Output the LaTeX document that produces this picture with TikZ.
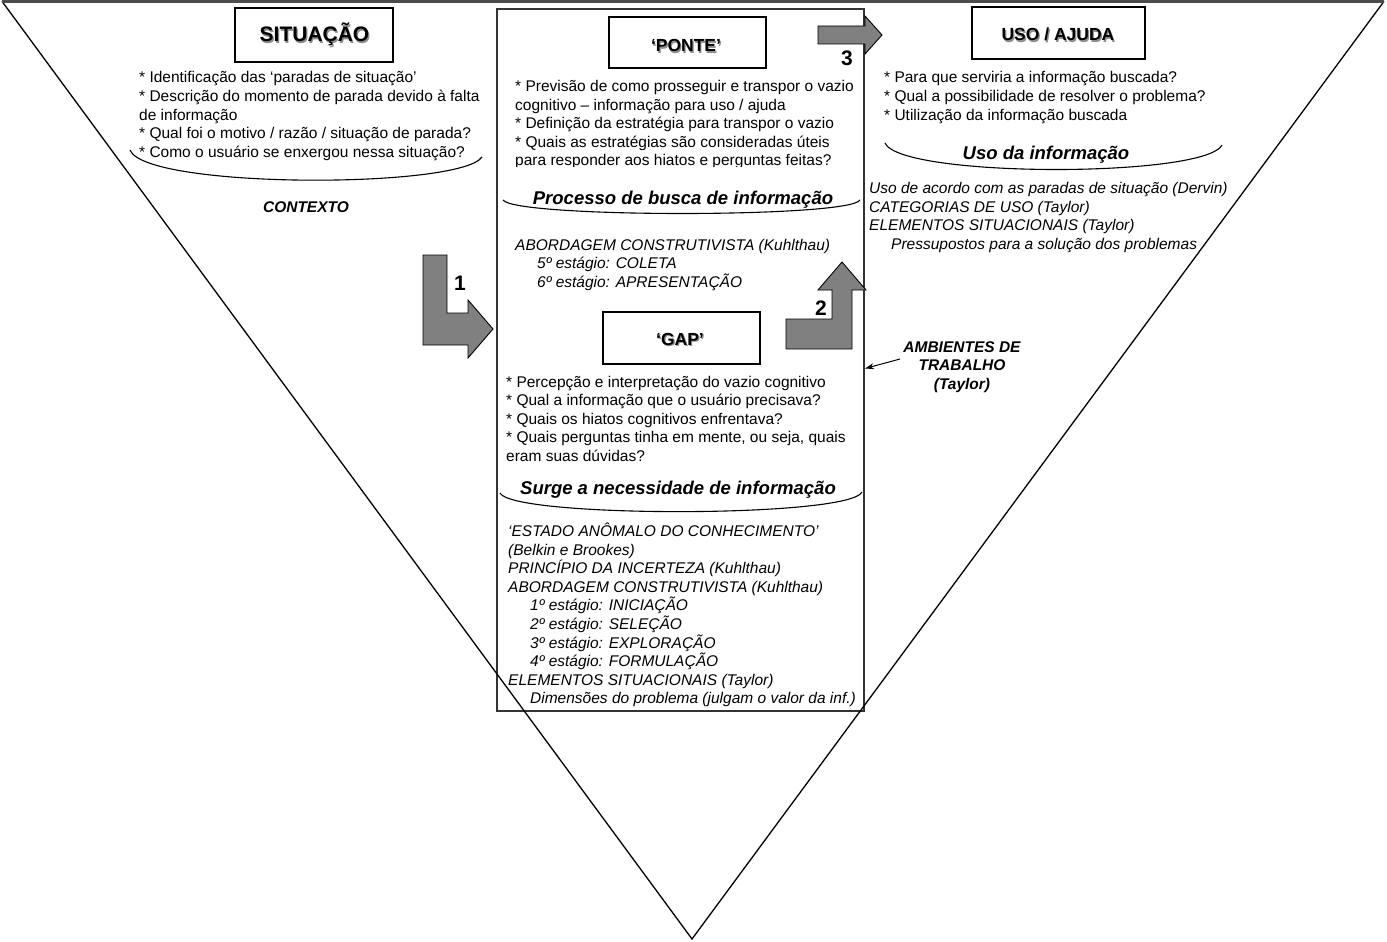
\documentclass[tikz,border=0pt]{standalone}
\usepackage{fontspec}
\setmainfont{Liberation Sans}
\usetikzlibrary{arrows.meta}
\newcommand\fsTxt{\fontsize{15.5}{18.4}\selectfont}
\newcommand\fsHead{\fontsize{18.5}{22}\selectfont\bfseries\itshape}
\newcommand\fsBI{\fontsize{15.5}{18.5}\selectfont\bfseries\itshape}
\newcommand\fsTitle{\fontsize{17.5}{20}\selectfont\bfseries}
\newcommand\fsBig{\fontsize{21}{24}\selectfont\bfseries}
\newcommand\shtext[1]{\makebox[0pt][l]{\hspace{1.2pt}\raisebox{-1.2pt}{\textcolor{black!45}{#1}}}#1}
\begin{document}
\begin{tikzpicture}[x=1pt,y=-1pt,
  txt/.style={anchor=base west,inner sep=0pt,font=\fsTxt},
  itl/.style={anchor=base west,inner sep=0pt,font=\fsTxt\itshape},
  head/.style={anchor=base,inner sep=0pt,font=\fsHead},
  bi/.style={anchor=base,inner sep=0pt,font=\fsBI},
  ttl/.style={anchor=base,inner sep=0pt,font=\fsTitle},
  num/.style={anchor=base,inner sep=0pt,font=\fsBig},
  tbox/.style={draw,line width=1.1pt,inner sep=0pt},
  barrow/.style={draw=black,line width=0.9pt,fill=black!50,line join=miter},
  arc/.style={line width=1.1pt}
]
\useasboundingbox (0,0) rectangle (1387,942);

% central frame
\node[draw=black!80,line width=1.6pt,inner sep=0pt,minimum width=367pt,minimum height=702pt] (mainbox) at (680.5,360) {};

% triangle
\coordinate (tl) at (2,1.3);
\coordinate (tr) at (1384,1.3);
\coordinate (apex) at (692,939);
\draw[line width=1.3pt] (tl) -- (apex) -- (tr);
\draw[line width=2.6pt,black!70] (tl) -- (tr);

% title boxes
\node[tbox,minimum width=158pt,minimum height=54pt] (sitbox) at (314,35) {};
\node[num] (sit) at (314.5,42) {\shtext{SITUAÇÃO}};
\node[tbox,minimum width=157pt,minimum height=51pt] (pontebox) at (687.5,42.5) {};
\node[ttl] (ponte) at (686,52) {\shtext{‘PONTE’}};
\node[tbox,minimum width=173pt,minimum height=52pt] (usobox) at (1058.5,33) {};
\node[ttl] (uso) at (1058,41) {\shtext{USO / AJUDA}};
\node[tbox,minimum width=157pt,minimum height=52pt] (gapbox) at (681.5,338) {};
\node[ttl] (gap) at (680,345) {\shtext{‘GAP’}};

% SITUACAO text
\node[txt] (s1) at (139,83) {* Identificação das ‘paradas de situação’};
\node[txt] (s2) at (139,101.6) {* Descrição do momento de parada devido à falta};
\node[txt] (s3) at (139,120.2) {de informação};
\node[txt] (s4) at (139,138.8) {* Qual foi o motivo / razão / situação de parada?};
\node[txt] (s5) at (139,157.4) {* Como o usuário se enxergou nessa situação?};
\draw[arc] (130,150) .. controls (145,189) and (460,189) .. (482,157);
\node[bi] (ctx) at (306,212) {CONTEXTO};

% PONTE text
\begin{scope}
\clip (500,60) rectangle (862,166.4);
\node[txt] (p1) at (515,91.5) {* Previsão de como prosseguir e transpor o vazio};
\node[txt] (p2) at (515,110.1) {cognitivo – informação para uso / ajuda};
\node[txt] (p3) at (515,128.7) {* Definição da estratégia para transpor o vazio};
\node[txt] (p4) at (515,147.3) {* Quais as estratégias são consideradas úteis};
\node[txt] (p5) at (515,165.9) {para responder aos hiatos e perguntas feitas?};
\end{scope}
\node[head] (proc) at (683,204) {Processo de busca de informação};
\draw[arc] (503,200) .. controls (515,218) and (850,218) .. (860,200);
\node[itl] (a1) at (515,250) {ABORDAGEM CONSTRUTIVISTA (Kuhlthau)};
\node[itl] (a2) at (537,268.6) {5º estágio: COLETA};
\node[itl] (a3) at (537,287.2) {6º estágio: APRESENTAÇÃO};

% USO text
\node[txt] (u1) at (884,83) {* Para que serviria a informação buscada?};
\node[txt] (u2) at (884,101.5) {* Qual a possibilidade de resolver o problema?};
\node[txt] (u3) at (884,120) {* Utilização da informação buscada};
\node[head] (usoinf) at (1046,159) {Uso da informação};
\draw[arc] (885,143) .. controls (900,178) and (1205,178) .. (1222,145);
\node[itl] (r1) at (869,193.5) {Uso de acordo com as paradas de situação (Dervin)};
\node[itl] (r2) at (869,212) {CATEGORIAS DE USO (Taylor)};
\node[itl] (r3) at (869,230.5) {ELEMENTOS SITUACIONAIS (Taylor)};
\node[itl] (r4) at (891,249) {Pressupostos para a solução dos problemas};

% GAP text
\node[txt] (g1) at (506,387) {* Percepção e interpretação do vazio cognitivo};
\node[txt] (g2) at (506,405.5) {* Qual a informação que o usuário precisava?};
\node[txt] (g3) at (506,424) {* Quais os hiatos cognitivos enfrentava?};
\node[txt] (g4) at (506,442.5) {* Quais perguntas tinha em mente, ou seja, quais};
\node[txt] (g5) at (506,461) {eram suas dúvidas?};
\node[head] (surge) at (678,494) {Surge a necessidade de informação};
\draw[arc] (500,493) .. controls (512,518) and (850,518) .. (862,492);
\node[itl] (e1) at (508,536.5) {‘ESTADO ANÔMALO DO CONHECIMENTO’};
\node[itl] (e2) at (508,555.1) {(Belkin e Brookes)};
\node[itl] (e3) at (508,573.7) {PRINCÍPIO DA INCERTEZA (Kuhlthau)};
\node[itl] (e4) at (508,592.3) {ABORDAGEM CONSTRUTIVISTA (Kuhlthau)};
\node[itl] (e5) at (530,610.9) {1º estágio: INICIAÇÃO};
\node[itl] (e6) at (530,629.5) {2º estágio: SELEÇÃO};
\node[itl] (e7) at (530,648.1) {3º estágio: EXPLORAÇÃO};
\node[itl] (e8) at (530,666.7) {4º estágio: FORMULAÇÃO};
\node[itl] (e9) at (508,685.3) {ELEMENTOS SITUACIONAIS (Taylor)};
\node[itl] (e10) at (530,703.9) {Dimensões do problema (julgam o valor da inf.)};

% AMBIENTES
\node[bi] (amb1) at (962,352) {AMBIENTES DE};
\node[bi] (amb2) at (962,370.5) {TRABALHO};
\node[bi] (amb3) at (962,389) {(Taylor)};
\coordinate (ambstart) at (900,359);
\coordinate (ambtip) at (865,368.5);
\draw[line width=1pt,-{Stealth[length=9pt,width=6pt]}] (ambstart) -- (ambtip);

% block arrows
\draw[barrow] (423,255) -- (447,255) -- (447,313) -- (468,313) -- (468,300) -- (493,329) -- (468,358) -- (468,345) -- (423,345) -- cycle;
\node[num] (n1) at (460,290) {1};
\draw[barrow] (786,319) -- (832,319) -- (832,290) -- (818,290) -- (842,262) -- (866,290) -- (852,290) -- (852,349) -- (786,349) -- cycle;
\node[num] (n2) at (821,315) {2};
\draw[barrow] (818,26) -- (865,26) -- (865,16) -- (882,35) -- (865,54) -- (865,44) -- (818,44) -- cycle;
\node[num] (n3) at (847,66) {3};
\end{tikzpicture}
\end{document}
